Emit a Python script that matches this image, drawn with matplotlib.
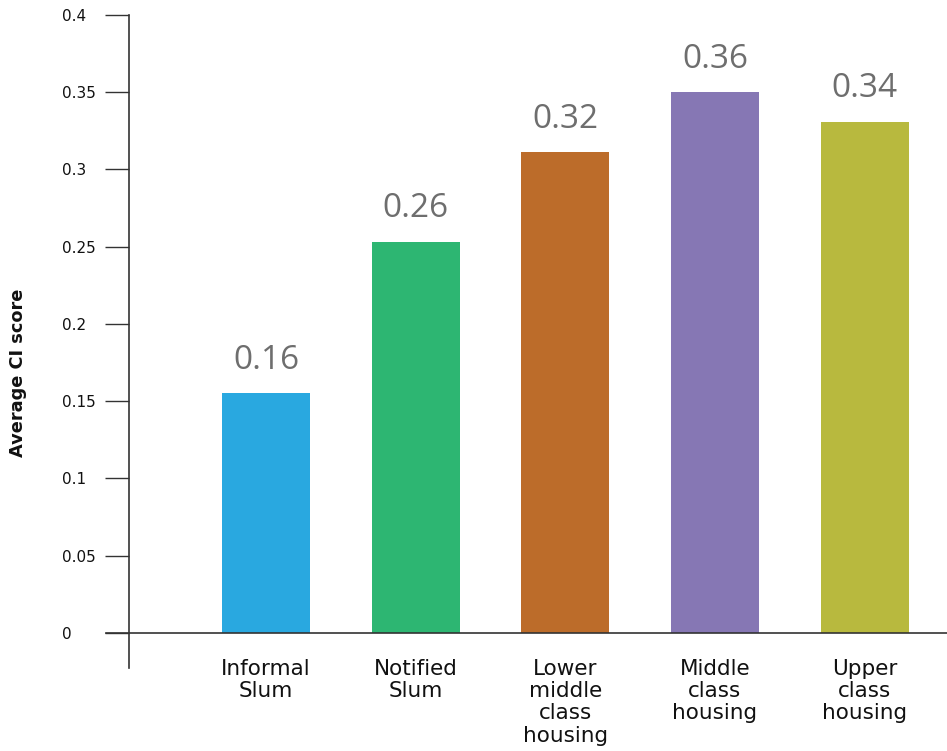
import matplotlib
matplotlib.use("Agg")
import matplotlib.pyplot as plt

categories = ["Informal\nSlum", "Notified\nSlum", "Lower\nmiddle\nclass\nhousing",
              "Middle\nclass\nhousing", "Upper\nclass\nhousing"]
values = [0.155, 0.253, 0.311, 0.350, 0.331]
value_labels = ["0.16", "0.26", "0.32", "0.36", "0.34"]
colors = ["#29A8E0", "#2DB672", "#BC6C2A", "#8677B4", "#B8B93E"]
yticks = [0, 0.05, 0.1, 0.15, 0.2, 0.25, 0.3, 0.35, 0.4]
ytick_labels = ["0", "0.05", "0.1", "0.15", "0.2", "0.25", "0.3", "0.35", "0.4"]

W, H = 947, 751
fig = plt.figure(figsize=(W / 100, H / 100), dpi=100)
left_px, right_px, top_px, bot_px = 129, 947, 15, 668
ax = fig.add_axes([left_px / W, (H - bot_px) / H, (right_px - left_px) / W, (bot_px - top_px) / H])

x = list(range(len(categories)))
ax.bar(x, values, width=0.588, color=colors, zorder=2)

ax.set_xlim(-0.916, 4.551)
ax.set_ylim(-0.0227, 0.4)

for s in ["top", "right", "bottom"]:
    ax.spines[s].set_visible(False)
ax.spines["left"].set_color("#333333")
ax.spines["left"].set_linewidth(1.2)

# x-axis line at zero
ax.axhline(0, xmin=-0.028, xmax=1.0, color="#333333", lw=1.2, clip_on=False, zorder=3)

ax.set_yticks(yticks)
ax.set_yticklabels(ytick_labels, fontsize=11, family="DejaVu Sans", color="#111111")
ax.tick_params(axis="y", direction="out", length=17.3, width=1.0, color="#333333", pad=31)
for lbl in ax.get_yticklabels():
    lbl.set_horizontalalignment("left")

ax.set_xticks([])
for xi, cat in zip(x, categories):
    ax.annotate(cat, (xi, 0), xytext=(0, -18.5), textcoords="offset points",
                ha="center", va="top", fontsize=15.5, family="DejaVu Sans",
                color="#111111", linespacing=1.15, annotation_clip=False)

for xi, v, lab in zip(x, values, value_labels):
    ax.annotate(lab, (xi, v), xytext=(0, 12), textcoords="offset points",
                ha="center", va="bottom", fontsize=24, family="Open Sans",
                color="#6E6E6E")

fig.text(18 / W, 1 - 373 / H, "Average CI score", rotation=90, ha="center", va="center",
         fontsize=12.8, fontweight="bold", family="DejaVu Sans", color="#111111")

fig.savefig("out.png", dpi=100)
